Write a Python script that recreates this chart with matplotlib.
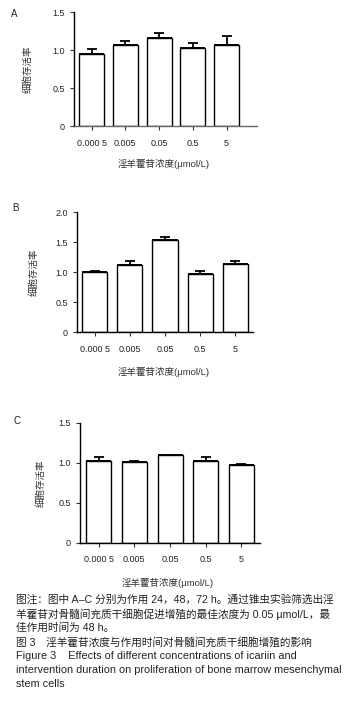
import matplotlib
matplotlib.use('Agg')
import matplotlib.pyplot as plt
from matplotlib.ticker import FuncFormatter

plt.rcParams['font.family'] = ['Liberation Sans', 'Noto Sans CJK SC', 'DejaVu Sans']

# data
concentrations = ['0.000 5', '0.005', '0.05', '0.5', '5']
means_a = [0.95, 1.07, 1.16, 1.03, 1.06]
errs_a = [0.06, 0.05, 0.06, 0.06, 0.12]
means_b = [1.00, 1.11, 1.54, 0.97, 1.13]
errs_b = [0.01, 0.08, 0.04, 0.05, 0.06]
means_c = [1.02, 1.01, 1.10, 1.03, 0.97]
errs_c = [0.06, 0.02, 0.005, 0.04, 0.02]

panels = ['A', 'B', 'C']
ylims = [1.5, 2.0, 1.5]
yticks = [[0, 0.5, 1.0, 1.5], [0, 0.5, 1.0, 1.5, 2.0], [0, 0.5, 1.0, 1.5]]

ylabel = '细胞存活率'
xlabel = '淫羊藿苷浓度(μmol/L)'

caption = [
    '图注：图中 A–C 分别为作用 24，48，72 h。通过锥虫实验筛选出淫',
    '羊藿苷对骨髓间充质干细胞促进增殖的最佳浓度为 0.05 μmol/L，最',
    '佳作用时间为 48 h。',
    '图 3　淫羊藿苷浓度与作用时间对骨髓间充质干细胞增殖的影响',
    'Figure 3    Effects of different concentrations of icariin and',
    'intervention duration on proliferation of bone marrow mesenchymal',
    'stem cells',
]
caption_sizes = [7.7, 7.7, 7.7, 7.7, 7.8, 7.8, 7.8]

W, H = 346, 710
fig = plt.figure(figsize=(W / 100, H / 100), dpi=100)

# axes boxes in pixels: left, right, top, bottom
boxes = [(74, 257, 12, 126), (77, 253, 212, 332), (80, 260, 423, 543)]
xlims = [(-0.52, 4.9), (-0.5, 4.5), (-0.52, 4.52)]
widths = [0.74, 0.72, 0.7]
ylab_x = [-0.224, -0.22, -0.19]
letter_pos = [(14, 14), (15, 208), (17, 421)]
spine_col = ['#666666', 'black', 'black']

all_means = [means_a, means_b, means_c]
all_errs = [errs_a, errs_b, errs_c]

fmt = FuncFormatter(lambda v, p: '0' if v == 0 else '%.1f' % v)

for i in range(3):
    l, r, t, b = boxes[i]
    ax = fig.add_axes([l / W, 1 - b / H, (r - l) / W, (b - t) / H])
    x = range(len(concentrations))
    ax.bar(x, all_means[i], width=widths[i], color='white', edgecolor='black',
           linewidth=1.0, zorder=2)
    ax.errorbar(x, all_means[i], yerr=[[0] * 5, all_errs[i]], fmt='none',
                ecolor='black', elinewidth=1.3, capsize=3.5, capthick=1.3, zorder=3)
    # thicker mean line on top of each bar
    ax.hlines(all_means[i], [k - widths[i] / 2 for k in x], [k + widths[i] / 2 for k in x],
              color='black', linewidth=1.4, zorder=3)
    ax.set_xlim(*xlims[i])
    ax.set_ylim(0, ylims[i])
    ax.set_yticks(yticks[i])
    ax.yaxis.set_major_formatter(fmt)
    ax.set_xticks(list(x))
    ax.set_xticklabels(concentrations)
    ax.spines['top'].set_visible(False)
    ax.spines['right'].set_visible(False)
    ax.spines['left'].set_linewidth(1.0)
    ax.spines['bottom'].set_linewidth(1.0)
    ax.spines['bottom'].set_color(spine_col[i])
    ax.tick_params(axis='both', labelsize=6.5, length=3, width=0.8, color='#333333',
                   labelcolor='#222222')
    ax.tick_params(axis='x', pad=6)
    ax.set_ylabel(ylabel, fontsize=6.8, color='#333333')
    ax.yaxis.set_label_coords(ylab_x[i], 0.5)
    ax.set_xlabel(xlabel, fontsize=6.8, color='#333333')
    ax.xaxis.set_label_coords(0.49, -0.29)
    fig.text(letter_pos[i][0] / W, 1 - letter_pos[i][1] / H, panels[i], fontsize=7,
             ha='center', va='center', color='#222222')

y0 = 600
for k, line in enumerate(caption):
    fig.text(16 / W, 1 - (y0 + k * 14) / H, line, fontsize=caption_sizes[k], ha='left',
             va='center', color='#222222')

fig.savefig('out.png', dpi=100)
